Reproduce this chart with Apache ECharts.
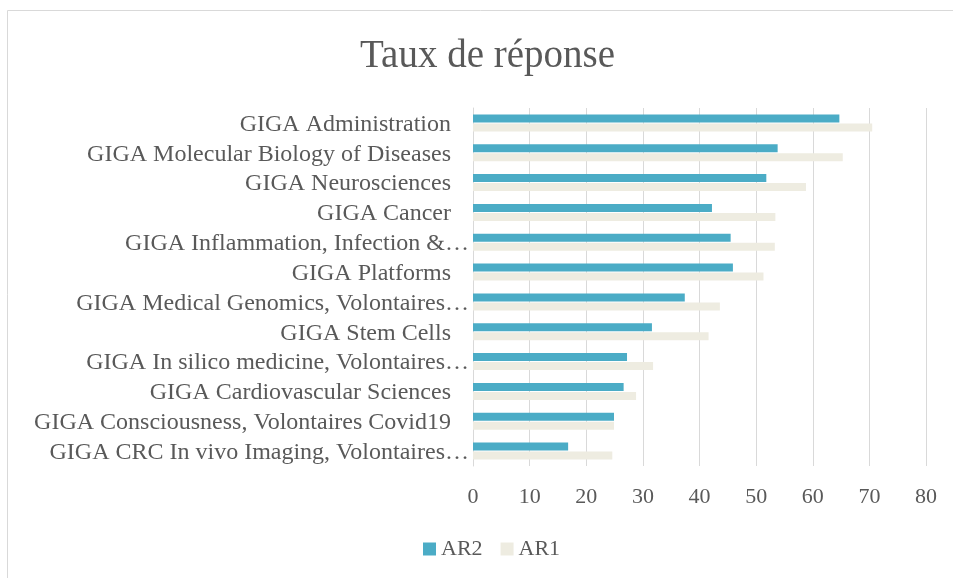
<!DOCTYPE html>
<html>
<head>
<meta charset="utf-8">
<title>Taux de réponse</title>
<script src="https://cdn.jsdelivr.net/npm/echarts@6/dist/echarts.min.js"></script>
<style>
  html, body { margin: 0; padding: 0; background: #fff; }
  #chart { width: 953px; height: 578px; }
</style>
</head>
<body>
<div id="chart"></div>
<script>
// catégories, de haut en bas
const categories = [
  'GIGA Administration',
  'GIGA Molecular Biology of Diseases',
  'GIGA Neurosciences',
  'GIGA Cancer',
  'GIGA Inflammation, Infection &…',
  'GIGA Platforms',
  'GIGA Medical Genomics, Volontaires…',
  'GIGA Stem Cells',
  'GIGA In silico medicine, Volontaires…',
  'GIGA Cardiovascular Sciences',
  'GIGA Consciousness, Volontaires Covid19',
  'GIGA CRC In vivo Imaging, Volontaires…'
]
const ar2 = [64.7, 53.8, 51.8, 42.2, 45.5, 45.9, 37.4, 31.6, 27.2, 26.6, 24.9, 16.8]
const ar1 = [70.5, 65.3, 58.8, 53.4, 53.3, 51.3, 43.6, 41.6, 31.8, 28.8, 24.9, 24.6]
const xTicks = { min: 0, max: 80, interval: 10 }

const textColor = '#595959'
const gridColor = '#D9D9D9'
const font = '"Liberation Serif", "DejaVu Serif", serif'

const myChart = echarts.init(document.getElementById('chart'))

const option = {
  animation: false,
  color: ['#4BACC6', '#EEECE1'],
  title: {
    text: 'Taux de réponse',
    left: 355,
    top: 32,
    textStyle: { color: textColor, fontFamily: font, fontSize: 39, fontWeight: 'normal' }
  },
  legend: {
    bottom: 18,
    left: 423,
    padding: 0,
    itemWidth: 13,
    itemHeight: 13,
    itemGap: 18,
    icon: 'rect',
    textStyle: { color: textColor, fontFamily: font, fontSize: 22 },
    data: ['AR2', 'AR1']
  },
  graphic: [{
    type: 'rect',
    shape: { x: 7.5, y: 10.5, width: 960, height: 600 },
    style: { fill: 'none', stroke: gridColor, lineWidth: 1 },
    silent: true
  }],
  grid: { left: 473, right: 27, top: 108, bottom: 112 },
  xAxis: {
    type: 'value',
    min: xTicks.min,
    max: xTicks.max,
    interval: xTicks.interval,
    axisLine: { show: false },
    axisTick: { show: false },
    axisLabel: { color: textColor, fontFamily: font, fontSize: 22, margin: 20 },
    splitLine: { lineStyle: { color: gridColor, width: 1 } }
  },
  yAxis: {
    type: 'category',
    inverse: true,
    data: categories,
    axisLine: { lineStyle: { color: gridColor } },
    axisTick: { show: false },
    axisLabel: {
      interval: 0,
      color: textColor,
      fontFamily: font,
      fontSize: 24,
      margin: 4,
      padding: [3, 0, 0, 0],
      // les libellés complets gardent un espace final comme dans Excel
      formatter: v => v.endsWith('…') ? v : '{p|' + v + '}',
      rich: { p: { color: textColor, fontFamily: font, fontSize: 24, padding: [0, 18, 0, 0] } }
    }
  },
  series: [
    { name: 'AR2', type: 'bar', data: ar2, barWidth: 8, barGap: '12%' },
    { name: 'AR1', type: 'bar', data: ar1, barWidth: 8, barGap: '12%' }
  ]
}

option && myChart.setOption(option)
</script>
</body>
</html>
